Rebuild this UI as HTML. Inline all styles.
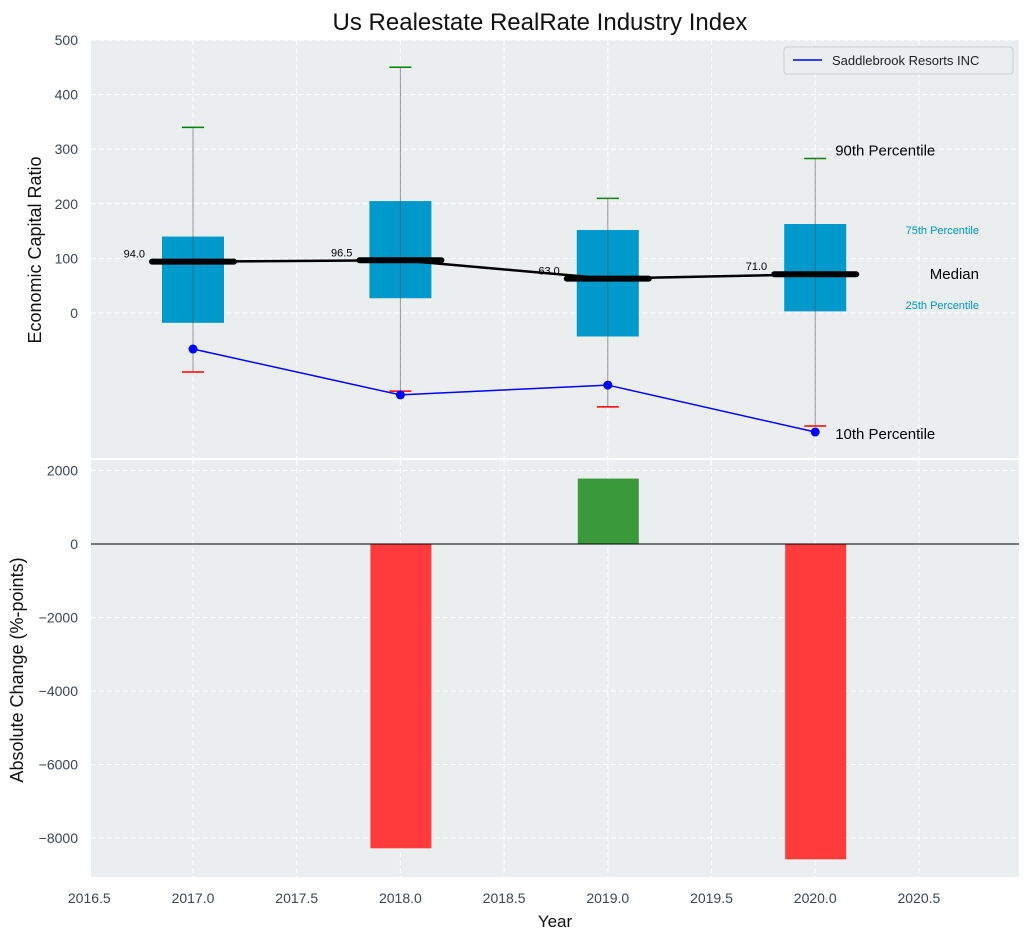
<!DOCTYPE html>
<html><head><meta charset="utf-8"><style>
body{margin:0;background:#fff;font-family:"Liberation Sans",sans-serif}
svg text{font-family:"Liberation Sans",sans-serif}
</style></head><body>
<svg id="c" width="1029" height="940" xmlns="http://www.w3.org/2000/svg"></svg>
<script>
const years=[2017,2018,2019,2020];
const p10=[-108,-143,-172,-207];
const p25=[-18,27,-43,3];
const medians=[94,96.5,63,71];
const p75=[140,205,152,163];
const p90=[340,450,210,283];
const company=[-66,-150,-132,-218];
const changeYears=[2017,2018,2019,2020];
const changes=[0,-8280,1780,-8580];
const topTicks=[0,100,200,300,400,500];
const botTicks=[-8000,-6000,-4000,-2000,0,2000];
const xTicks=[2016.5,2017,2017.5,2018,2018.5,2019,2019.5,2020,2020.5];

const svg=document.getElementById('c');
const NS='http://www.w3.org/2000/svg';
function el(t,a,p){const e=document.createElementNS(NS,t);for(const k in a)e.setAttribute(k,a[k]);(p||svg).appendChild(e);return e;}
const X=v=>193+(v-2017)*207.4;
const Y1=v=>313-v*0.546;
const Y2=v=>544-v*0.03675;
const L=91,R=1019;

let g=el('rect',{x:L,y:40,width:R-L,height:418,fill:'#eaeeef'});

g=el('rect',{x:L,y:460,width:R-L,height:417,fill:'#eaeeef'});


xTicks.forEach(v=>{
  let l=el('line',{x1:X(v),x2:X(v),y1:40,y2:458,stroke:'#fff','stroke-dasharray':'5,3','stroke-width':1});
  
  l=el('line',{x1:X(v),x2:X(v),y1:460,y2:877,stroke:'#fff','stroke-dasharray':'5,3','stroke-width':1});
  
  const t=el('text',{x:X(v),y:903,'text-anchor':'middle','font-size':14,fill:'#3b4656'});t.textContent=v.toFixed(1);
  
});
topTicks.forEach(v=>{
  const l=el('line',{x1:L,x2:R,y1:Y1(v),y2:Y1(v),stroke:'#fff','stroke-dasharray':'5,3'});
  
  const t=el('text',{x:78,y:Y1(v)+5,'text-anchor':'end','font-size':14,fill:'#3b4656'});t.textContent=v;
  
});
botTicks.forEach(v=>{
  const l=el('line',{x1:L,x2:R,y1:Y2(v),y2:Y2(v),stroke:'#fff','stroke-dasharray':'5,3'});
  
  const t=el('text',{x:78,y:Y2(v)+5,'text-anchor':'end','font-size':14,fill:'#3b4656'});t.textContent=v<0?'\u2212'+(-v):v;
  
});

years.forEach((yr,i)=>{
  const x=X(yr);
  let r=el('rect',{x:x-31,y:Y1(p75[i]),width:62,height:Y1(p25[i])-Y1(p75[i]),fill:'#0099cc'});
  
  let w=el('line',{x1:x,x2:x,y1:Y1(p90[i]),y2:Y1(p10[i]),stroke:'#555','stroke-opacity':0.6,'stroke-width':1});
  
  let c=el('line',{x1:x-11,x2:x+11,y1:Y1(p90[i]),y2:Y1(p90[i]),stroke:'green','stroke-width':1.5});
  
  c=el('line',{x1:x-11,x2:x+11,y1:Y1(p10[i]),y2:Y1(p10[i]),stroke:'red','stroke-width':1.5});
  
});
let pts=years.map((y,i)=>X(y)+','+Y1(medians[i])).join(' ');
let ml=el('polyline',{points:pts,fill:'none',stroke:'#000','stroke-width':2.5});

years.forEach((yr,i)=>{
  const x=X(yr);
  const m=el('line',{x1:x-41,x2:x+41,y1:Y1(medians[i]),y2:Y1(medians[i]),stroke:'#000','stroke-width':6,'stroke-linecap':'round'});
  
  const t=el('text',{x:x-48,y:Y1(medians[i])-4,'text-anchor':'end','font-size':11,fill:'#000'});t.textContent=medians[i].toFixed(1);
  
});
pts=years.map((y,i)=>X(y)+','+Y1(company[i])).join(' ');
let cl=el('polyline',{points:pts,fill:'none',stroke:'blue','stroke-width':1.5});

years.forEach((yr,i)=>{
  const d=el('circle',{cx:X(yr),cy:Y1(company[i]),r:4.5,fill:'blue'});
  
});
const last=years.length-1, lx=X(years[last]);
[['90th Percentile',lx+20,Y1(p90[last])-3,15,'#000','start'],['75th Percentile',979,234,11,'#0099cc','end'],
 ['Median',979,Y1(medians[last])+5,15,'#000','end'],['25th Percentile',979,309,11,'#0099cc','end'],
 ['10th Percentile',lx+20,Y1(company[last])+7,15,'#000','start']].forEach(a=>{
  const t=el('text',{x:a[1],y:a[2],'font-size':a[3],fill:a[4],'text-anchor':a[5]});t.textContent=a[0];
  
});
changeYears.forEach((yr,i)=>{
  const v=changes[i];if(v===0)return;
  const b=el('rect',{x:X(yr)-30,y:Math.min(Y2(v),Y2(0)),width:61,height:Math.abs(Y2(v)-Y2(0)),fill:v<0?'#ff3b3b':'#3a9a3a'});
  
});
let zl=el('line',{x1:L,x2:R,y1:Y2(0),y2:Y2(0),stroke:'#000','stroke-width':1});


let lg=el('g',{});
el('rect',{x:784,y:47,width:229,height:27,rx:3,fill:'#eaeeef',stroke:'#ccc'},lg);
el('line',{x1:793,x2:822,y1:60,y2:60,stroke:'blue','stroke-width':1.5},lg);
let lt=el('text',{x:832,y:65,'font-size':13,fill:'#222'},lg);lt.textContent='Saddlebrook Resorts INC';


let t=el('text',{x:540,y:30,'text-anchor':'middle','font-size':24,fill:'#111'});t.textContent='Us Realestate RealRate Industry Index';

t=el('text',{x:555,y:927,'text-anchor':'middle','font-size':17,fill:'#111'});t.textContent='Year';

t=el('text',{x:0,y:0,'text-anchor':'middle','font-size':18,fill:'#111',transform:'translate(41,250) rotate(-90)'});t.textContent='Economic Capital Ratio';

t=el('text',{x:0,y:0,'text-anchor':'middle','font-size':18,fill:'#111',transform:'translate(23,670) rotate(-90)'});t.textContent='Absolute Change (%-points)';

</script>
</body></html>
